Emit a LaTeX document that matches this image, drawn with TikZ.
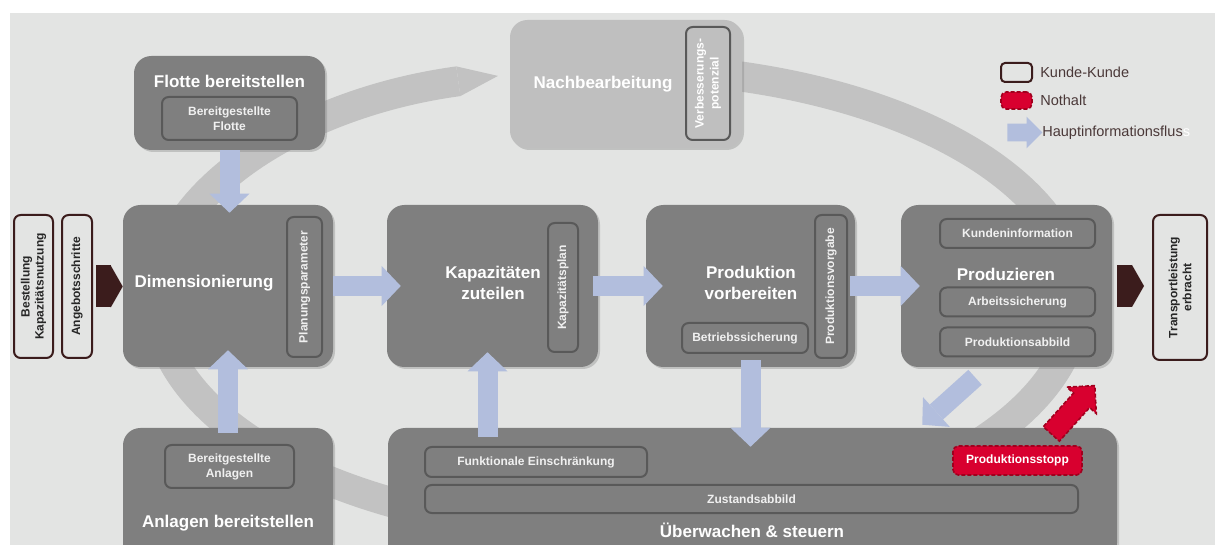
\documentclass[tikz,border=0pt]{standalone}
\usepackage{fontspec}
\setmainfont{Liberation Sans}
\usepackage{tikz}
\usetikzlibrary{arrows.meta,shapes.arrows,shadows}

\definecolor{bggray}{HTML}{E3E4E3}
\definecolor{ringgray}{HTML}{C2C2C2}
\definecolor{boxgray}{HTML}{7F7F7F}
\definecolor{lightbox}{HTML}{BFBFBF}
\definecolor{innerline}{HTML}{595959}
\definecolor{innertext}{HTML}{F0F0F0}
\definecolor{flowblue}{HTML}{B2BEDD}
\definecolor{kundebrown}{HTML}{3B1C1C}
\definecolor{stopred}{HTML}{D8002F}
\definecolor{stopline}{HTML}{A0001E}
\definecolor{legendtext}{HTML}{4A3838}

\newdimen\px \px=0.75pt

\tikzset{
  sz/.style 2 args={minimum width=#1*\px, minimum height=#2*\px},
  bigbox/.style={rectangle, rounded corners=13pt, fill=boxgray, inner sep=0pt,
                 drop shadow={shadow xshift=1.5pt, shadow yshift=-1.5pt, opacity=.35}},
  headtxt/.style={font=\bfseries\fontsize{12.75}{15.75}\selectfont, text=white,
                  align=center, inner sep=0pt},
  innerbox/.style={rectangle, rounded corners=5pt, draw=innerline, line width=1.5pt,
                   fill=boxgray, text=innertext, align=center, inner sep=0pt,
                   font=\bfseries\fontsize{9}{11.25}\selectfont},
  kundebox/.style={rectangle, rounded corners=5pt, draw=kundebrown, line width=1.5pt,
                   fill=bggray, text=black!85, align=center, inner sep=0pt, rotate=90,
                   font=\bfseries\fontsize{9}{10.5}\selectfont},
  stopbox/.style={rectangle, rounded corners=4pt, fill=stopred, draw=stopline,
                  line width=1.2pt, dash pattern=on 3pt off 1.5pt, inner sep=0pt,
                  text=white, font=\bfseries\fontsize{9}{11}\selectfont},
  legtxt/.style={text=legendtext, font=\fontsize{10.9}{13}\selectfont, inner sep=0pt, anchor=west},
  flow/.style={draw=flowblue, line width=15pt,
               -{Triangle[width=30pt,length=14.25pt,line width=0pt]}},
  handover/.style={draw=kundebrown, line width=31.5pt,
                   -{Triangle[width=31.5pt,length=9pt,line width=0pt]}},
  ring/.style={draw=ringgray, line width=22.5pt,
               -{Triangle[width=22.5pt,length=30pt,line width=0pt]}},
  fatarrow/.style={single arrow, inner xsep=0pt, minimum width=0pt}
}

\begin{document}
\begin{tikzpicture}[x=1\px, y=-1\px]
  \useasboundingbox (0,0) rectangle (1215,545);
  \clip (0,0) rectangle (1215,545);
  %Background
  \fill[bggray] (10,13) rectangle (1215,545);
  %Cycle ring
  \draw[ring] (617,68) arc[start angle=-90, end angle=255, x radius=460, y radius=232];

  %Main boxes
  \node[bigbox, sz={191}{94}] (flotte) at (229.5,103) {};
  \node[bigbox, sz={232}{128}, fill=lightbox] (nach) at (626,84) {};
  \node[bigbox, sz={210}{162}] (dim) at (228,286) {};
  \node[bigbox, sz={211}{162}] (kap) at (492.5,286) {};
  \node[bigbox, sz={209}{162}] (prod) at (750.5,286) {};
  \node[bigbox, sz={211}{162}] (produz) at (1006.5,286) {};
  \node[bigbox, sz={210}{132}] (anl) at (228,494) {};
  \node[bigbox, sz={729}{132}] (ueb) at (752.5,494) {};

  %Titles
  \node[headtxt] (flotteT) at (229.5,81) {Flotte bereitstellen};
  \node[headtxt] (nachT) at (603,84) {Nachbearbeitung};
  \node[headtxt] (dimT) at (204,283) {Dimensionierung};
  \node[headtxt] (kapT) at (493,283) {Kapazitäten\\zuteilen};
  \node[headtxt] (prodT) at (751,283) {Produktion\\vorbereiten};
  \node[headtxt] (produzT) at (1006,274) {Produzieren};
  \node[headtxt] (anlT) at (228,523) {Anlagen bereitstellen};
  \node[headtxt] (uebT) at (752,530) {Überwachen \& steuern};

  %Inner boxes
  \node[innerbox, sz={135}{43}] (flotteIn) at (229.5,118.5) {Bereitgestellte\\Flotte};
  \node[innerbox, sz={113}{44}, rotate=90, fill=lightbox, text=white] (nachIn) at (708,83.5) {Verbesserungs-\\potenzial};
  \node[innerbox, sz={140}{35}, rotate=90] (dimIn) at (304.5,287) {Planungsparameter};
  \node[innerbox, sz={129}{30}, rotate=90] (kapIn) at (563,287.5) {Kapazitätsplan};
  \node[innerbox, sz={126}{30}] (prodIn) at (745,338) {Betriebssicherung};
  \node[innerbox, sz={143}{32}, rotate=90] (prodVg) at (831,286.5) {Produktionsvorgabe};
  \foreach \y/\t/\n in {233.5/Kundeninformation/produzA, 302/Arbeitssicherung/produzB,
                        342/Produktionsabbild/produzC}
    \node[innerbox, sz={155}{29}] (\n) at (1017.5,\y) {\t};
  \node[innerbox, sz={129}{43}] (anlIn) at (229.5,466.5) {Bereitgestellte\\Anlagen};
  \node[innerbox, sz={222}{30}] (uebA) at (536,462) {Funktionale Einschränkung};
  \node[innerbox, sz={653}{28}] (uebB) at (751.5,499) {Zustandsabbild};
  \node[stopbox, sz={129}{29}] (stopp) at (1017.5,460.5) {Produktionsstopp};

  %Customer boxes
  \node[kundebox, sz={143}{39}] (kundeA) at (33.5,286.5) {Bestellung\\Kapazitätsnutzung};
  \node[kundebox, sz={143}{30}] (kundeB) at (77,286.5) {Angebotsschritte};
  \node[kundebox, sz={145}{54}] (transp) at (1180,287.5) {Transportleistung\\erbracht};

  %Handover arrows
  \draw[handover, shorten <=2.25pt] (kundeB.south) -- (kundeB.south -| dim.west);
  \draw[handover, shorten <=3.75pt, shorten >=6pt] (produz.east) -- (produz.east -| transp.north);

  %Main information flow
  \draw[flow, shorten >=-10.5pt] (dim.east) -- (kap.west);
  \draw[flow, shorten <=-3.75pt, shorten >=-12.75pt] (kap.east) -- (prod.west);
  \draw[flow, shorten <=-3.75pt, shorten >=-14.25pt] (prod.east) -- (produz.west);
  \draw[flow, shorten >=-6pt] (flotte.south) -- (flotte.south |- dim.north);
  \draw[flow, shorten <=-3.75pt, shorten >=-12.75pt] (anl.north) -- (anl.north |- dim.south);
  \draw[flow, shorten <=-6.75pt, shorten >=-11.25pt] ([xshift=-3.75pt]kap.south |- ueb.north) -- ([xshift=-3.75pt]kap.south);
  \draw[flow, shorten <=-5.25pt, shorten >=-14.25pt] (prod.south) -- (prod.south |- ueb.north);
  \draw[flow] ([xshift=-23.6pt,yshift=-7.5pt]produz.south) -- ([xshift=-146.25pt,yshift=2.25pt]ueb.north east);

  %Emergency stop
  \node[fatarrow, fill=stopred, draw=stopline, line width=1.2pt, dash pattern=on 3pt off 1.5pt,
        inner ysep=7.5pt, minimum height=65*\px, single arrow head extend=6.75pt,
        rotate=48, anchor=tail] (stopArrow) at ([xshift=-24pt,yshift=8pt]stopp.north east) {};

  %Legend
  \node[rectangle, rounded corners=3pt, draw=kundebrown, line width=1.5pt, sz={31}{19}] (legKunde) at (1016.5,72.5) {};
  \node[legtxt] (legKundeT) at (1040,72) {Kunde-Kunde};
  \node[stopbox, sz={31}{17}] (legStop) at (1016.5,100.5) {};
  \node[legtxt] (legStopT) at (1040,100) {Nothalt};
  \node[fatarrow, fill=flowblue, inner ysep=6.4pt, minimum height=35*\px,
        single arrow head extend=5.25pt] (legFlow) at (1020.5,132.5) {};
  \node[legtxt] (legFlowT) at (1042,133) {Hauptinformationsflus\textcolor{white}{s}};
\end{tikzpicture}
\end{document}
